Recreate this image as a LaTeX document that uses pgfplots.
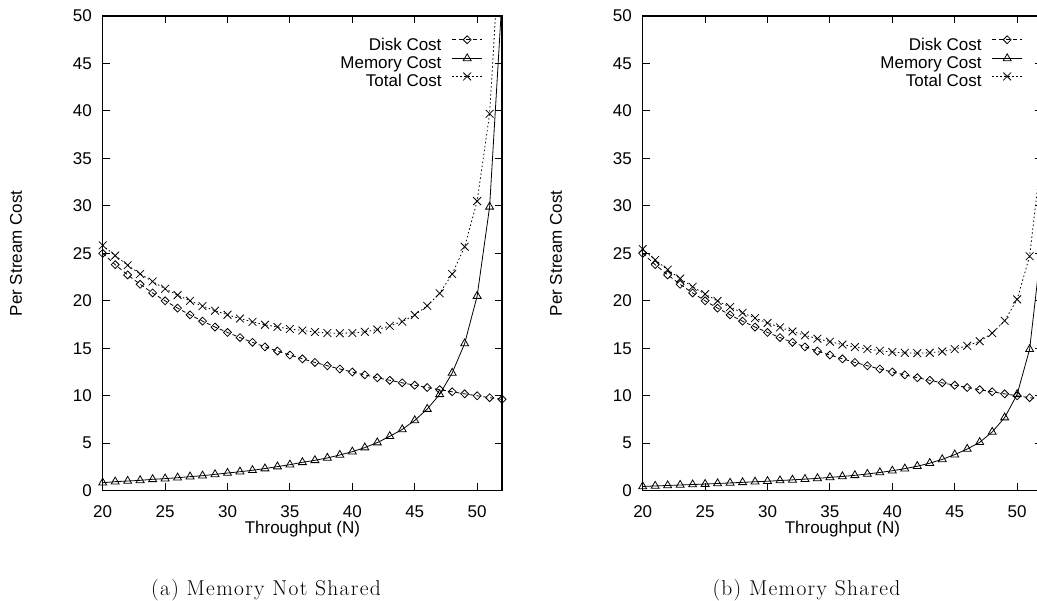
\documentclass[border=0pt]{standalone}
\usepackage{fontspec}
\setsansfont{Liberation Sans}
\newfontfamily\capfam{Latin Modern Roman}[LetterSpace=6]
\usepackage{pgfplots}
\usepackage{pgfplotstable}
\pgfplotsset{compat=1.18}

% N, disk, memory, total -- memory not shared
\pgfplotstableread{
N disk mem total
20 25.00 0.84 25.84
21 23.81 0.95 24.76
22 22.73 1.02 23.75
23 21.74 1.09 22.83
24 20.83 1.20 22.03
25 20.00 1.27 21.27
26 19.23 1.37 20.60
27 18.52 1.48 20.00
28 17.86 1.58 19.44
29 17.24 1.72 18.96
30 16.67 1.86 18.53
31 16.13 2.00 18.13
32 15.63 2.15 17.78
33 15.15 2.33 17.48
34 14.71 2.54 17.25
35 14.29 2.74 17.03
36 13.89 2.99 16.88
37 13.51 3.20 16.71
38 13.16 3.45 16.61
39 12.82 3.76 16.58
40 12.50 4.11 16.61
41 12.20 4.54 16.74
42 11.90 5.07 16.97
43 11.63 5.73 17.36
44 11.36 6.45 17.81
45 11.11 7.40 18.51
46 10.87 8.60 19.47
47 10.64 10.15 20.79
48 10.42 12.40 22.82
49 10.20 15.50 25.70
50 10.00 20.50 30.50
51 9.80 29.90 39.70
52 9.62 52.00 61.62
}\notshared

% memory shared
\pgfplotstableread{
N disk mem total
20 25.00 0.45 25.45
21 23.81 0.50 24.31
22 22.73 0.55 23.28
23 21.74 0.60 22.34
24 20.83 0.65 21.48
25 20.00 0.70 20.70
26 19.23 0.76 19.99
27 18.52 0.82 19.34
28 17.86 0.88 18.74
29 17.24 0.94 18.18
30 16.67 1.00 17.67
31 16.13 1.07 17.20
32 15.63 1.14 16.77
33 15.15 1.22 16.37
34 14.71 1.30 16.01
35 14.29 1.40 15.69
36 13.89 1.50 15.39
37 13.51 1.62 15.13
38 13.16 1.76 14.92
39 12.82 1.92 14.74
40 12.50 2.10 14.60
41 12.20 2.32 14.52
42 11.90 2.58 14.48
43 11.63 2.90 14.53
44 11.36 3.30 14.66
45 11.11 3.80 14.91
46 10.87 4.39 15.26
47 10.64 5.10 15.74
48 10.42 6.18 16.60
49 10.20 7.70 17.90
50 10.00 10.15 20.15
51 9.80 14.90 24.70
52 9.62 26.40 36.02
}\shared

\newcommand{\gfont}{\sffamily\fontsize{17bp}{20bp}\selectfont}
\newcommand{\capfont}{\capfam\fontsize{21.5bp}{25bp}\selectfont}

\pgfplotsset{
  costplot/.style={
    width=399.4bp, height=474.7bp, scale only axis,
    xmin=20, xmax=52, ymin=0, ymax=50,
    xtick={20,25,...,50}, ytick={0,5,...,50},
    tick align=inside, major tick length=7.5bp,
    axis line style={line width=1.2bp},
    every tick/.style={black, line width=0.9bp},
    /pgf/number format/assume math mode=true,
    tick label style={font=\gfont},
    xticklabel style={anchor=base, inner sep=0pt, yshift=-26.5bp},
    yticklabel style={anchor=east, inner sep=0pt, xshift=-10.7bp},
    label style={font=\gfont},
    xlabel={Throughput (N)}, ylabel={Per Stream Cost},
    xlabel style={at={(rel axis cs:0.5,0)}, anchor=base, inner sep=0pt, yshift=-43bp},
    ylabel style={at={(rel axis cs:0,0.5)}, anchor=center, inner sep=0pt, yshift=86.7bp},
    legend plot pos=right,
    legend cell align=right,
    legend image code/.code={
      \draw[mark repeat=2, mark phase=2, #1] plot coordinates {(0bp,6bp) (15bp,6bp) (30bp,6bp)};},
    legend style={draw=none, fill=none, font=\gfont,
      at={(rel axis cs:1,1)}, anchor=north east,
      xshift=-19.3bp, yshift=-19.6bp,
      inner sep=0pt, row sep=0.1bp, column sep=10.3bp,
      nodes={inner sep=0pt, text height=12.5bp, text depth=3.5bp}},
    every axis plot/.append style={black, line width=0.8bp},
  },
  disk/.style={mark=square, mark size=2.8bp, dash pattern=on 4bp off 3bp,
    mark options={solid, rotate=45}},
  mem/.style={mark=triangle, mark size=4.6bp, mark options={solid}},
  tot/.style={mark=x, mark size=5.5bp, dash pattern=on 1.5bp off 2.5bp,
    mark options={solid}},
}

\begin{document}
\begin{tikzpicture}
\useasboundingbox (-102.7bp,-110.3bp) rectangle (934.3bp,490.7bp);
\clip (-102.7bp,-110.3bp) rectangle (934.3bp,490.7bp);

\begin{axis}[costplot, at={(0bp,0bp)}]
  \addplot[disk] table[x=N, y=disk] {\notshared};
  \addlegendentry{Disk Cost}
  \addplot[mem] table[x=N, y=mem] {\notshared};
  \addlegendentry{Memory Cost}
  \addplot[tot] table[x=N, y=total] {\notshared};
  \addlegendentry{Total Cost}
\end{axis}

\begin{axis}[costplot, at={(540bp,0bp)}]
  \addplot[disk] table[x=N, y=disk] {\shared};
  \addlegendentry{Disk Cost}
  \addplot[mem] table[x=N, y=mem] {\shared};
  \addlegendentry{Memory Cost}
  \addplot[tot] table[x=N, y=total] {\shared};
  \addlegendentry{Total Cost}
\end{axis}

\node[anchor=base, font=\capfont] at (163.3bp,-104.3bp) {(a) Memory Not Shared};
\node[anchor=base, font=\capfont] at (703.8bp,-104.3bp) {(b) Memory Shared};
\end{tikzpicture}
\end{document}
